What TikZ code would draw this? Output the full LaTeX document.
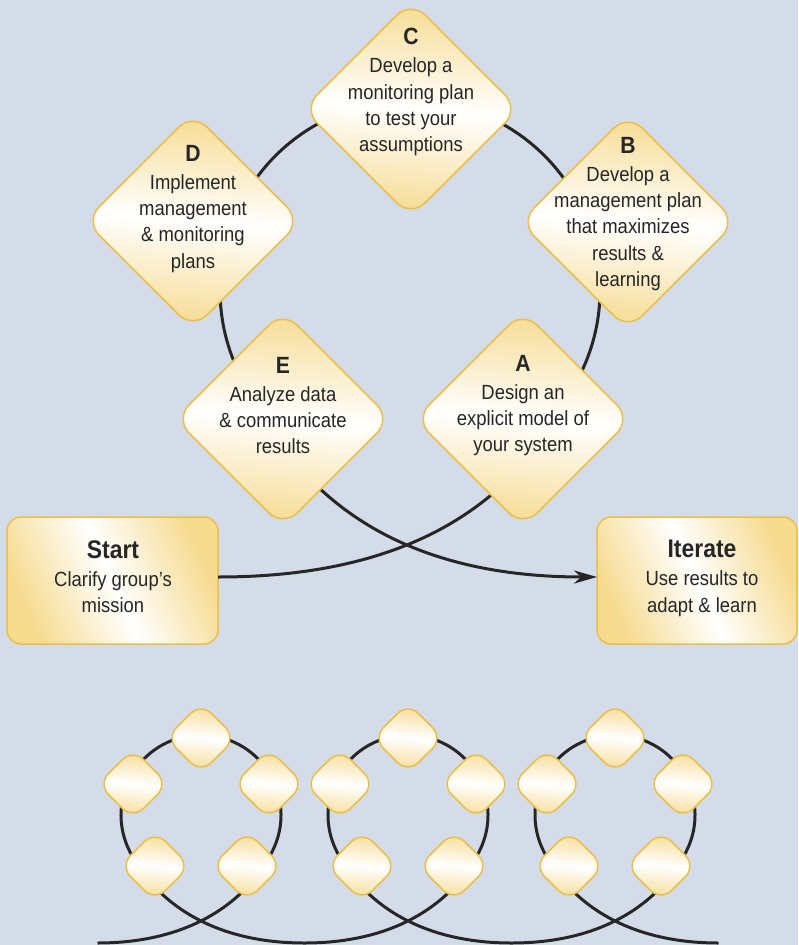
\documentclass[tikz,border=0pt]{standalone}
\usepackage{fontspec}
\setmainfont{Liberation Sans}[FakeStretch=0.9]
\usetikzlibrary{shapes.geometric,arrows.meta,calc}
\definecolor{bg}{HTML}{D4DCE9}
\definecolor{yel}{HTML}{F6DA8E}
\definecolor{edge}{HTML}{EABF49}
\definecolor{ink}{HTML}{262626}
\definecolor{txt}{HTML}{262626}
\newcommand\dtitle[1]{{\fontsize{23.5}{28}\selectfont\bfseries #1}}
\newcommand\btitle[1]{{\fontsize{25.5}{28}\selectfont\bfseries #1}}
\begin{document}
\begin{tikzpicture}[x=1pt,y=-1pt,
  bigdia/.style={shape=diamond, aspect=1, minimum width=216pt, minimum height=216pt,
    inner sep=0pt, outer sep=0pt, rounded corners=20pt, draw=edge, line width=1.5pt,
    top color=yel, bottom color=yel, middle color=white, shading angle=-5},
  smalldia/.style={shape=diamond, aspect=1, minimum width=70pt, minimum height=70pt,
    inner sep=0pt, outer sep=0pt, rounded corners=15pt, draw=edge, line width=1.5pt,
    top color=yel, bottom color=yel, middle color=white, shading angle=-5},
  box/.style={rectangle, rounded corners=14pt, draw=edge, line width=1.5pt,
    minimum height=127pt, inner sep=0pt, outer sep=0pt,
    top color=yel, bottom color=yel, middle color=white, shading angle=-66},
  lbl/.style={anchor=north, align=center, inner sep=0pt, text=txt,
    font=\fontsize{20.5}{26.2}\selectfont},
  conn/.style={draw=ink, line width=3pt}
]
\fill[bg] (0,0) rectangle (798,945);
\useasboundingbox (0,0) rectangle (798,945);

% boxes
\node[box, minimum width=211pt] (Start) at (112.5,580.5) {};
\node[box, minimum width=200pt] (Iterate) at (697,580.5) {};

% main loop
\draw[conn, -{Stealth[length=23pt,width=13pt,inset=7pt]}]
  ($(Start.east)+(0,-3.5)$) .. controls (468,577) and (544.1,451.8) .. (582.2,370.3)
  arc[start angle=-25, end angle=205, radius=190pt]
  .. controls (275.9,451.8) and (352,577) .. ($(Iterate.west)+(0,-3.5)$);

% small loops chain
\draw[conn]
  (97.5,943) .. controls (208,943) and (256.6,885) .. (273.5,848.8)
  arc[start angle=-25, end angle=205, radius=80pt]
  .. controls (145.4,885) and (194,943) .. (304.5,943)
  .. controls (415,943) and (463.6,885) .. (480.5,848.8)
  arc[start angle=-25, end angle=205, radius=80pt]
  .. controls (352.4,885) and (401,943) .. (511.5,943)
  .. controls (622,943) and (670.6,885) .. (687.5,848.8)
  arc[start angle=-25, end angle=205, radius=80pt]
  .. controls (559.4,885) and (608,943) .. (718.5,943);

% main diamonds
\node[bigdia] (C) at (411,109) {};
\node[bigdia] (D) at (193,221) {};
\node[bigdia] (B) at (628,222) {};
\node[bigdia] (E) at (283,419) {};
\node[bigdia] (A) at (523,419) {};

% small diamonds
\foreach \cx/\k in {201/1,408/2,615/3}{
  \node[smalldia] (s\k t) at (\cx,738) {};
  \node[smalldia] (s\k l) at (\cx-68,784) {};
  \node[smalldia] (s\k r) at (\cx+68,784) {};
  \node[smalldia] (s\k bl) at (\cx-46,866) {};
  \node[smalldia] (s\k br) at (\cx+46,866) {};
}

% texts
\node[lbl] (Ct) at (411,28) {\dtitle{C}\\[2pt]Develop a\\monitoring plan\\to test your\\assumptions};
\node[lbl] (Dt) at (193,145) {\dtitle{D}\\[2pt]Implement\\management\\\& monitoring\\plans};
\node[lbl] (Bt) at (628,137) {\dtitle{B}\\[2pt]Develop a\\management plan\\that maximizes\\results \&\\learning};
\node[lbl] (Et) at (283,357) {\dtitle{E}\\[2pt]Analyze data\\\& communicate\\results};
\node[lbl] (At) at (523,355) {\dtitle{A}\\[2pt]Design an\\explicit model of\\your system};
\node[lbl] (St) at (113,540) {\btitle{Start}\\[2pt]Clarify group’s\\mission};
\node[lbl] (It) at (702,540) {\btitle{Iterate}\\[2pt]Use results to\\adapt \& learn};
\end{tikzpicture}
\end{document}
